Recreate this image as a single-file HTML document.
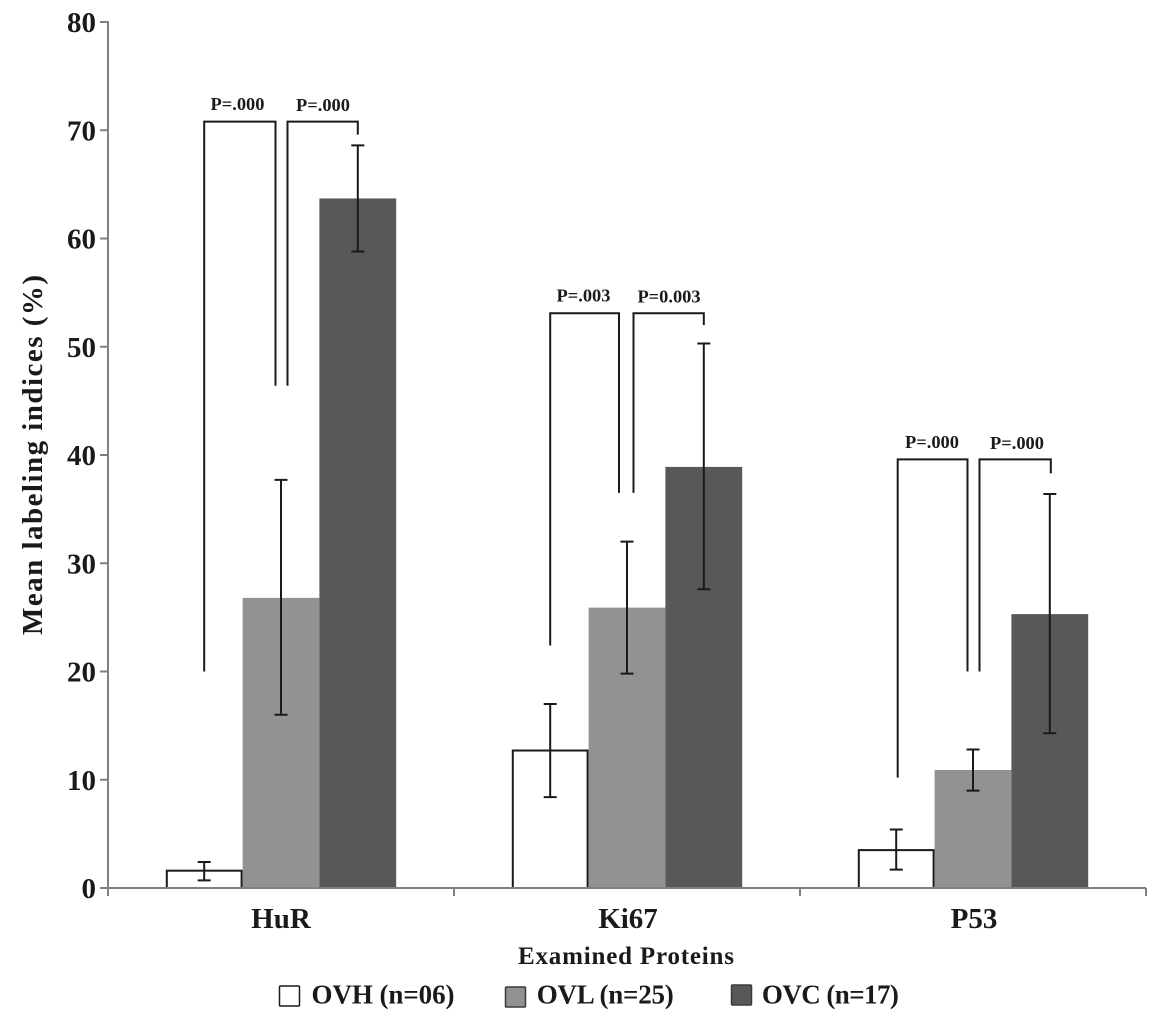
<!DOCTYPE html>
<html>
<head>
<meta charset="utf-8">
<title>Mean labeling indices</title>
<style>
html,body{margin:0;padding:0;background:#fff;width:1170px;height:1029px;overflow:hidden}
svg{display:block;filter:blur(0.35px)}
text{font-family:"Liberation Serif",serif;font-weight:bold;fill:#1a1a1a}
</style>
</head>
<body>
<svg id="chart" width="1170" height="1029" viewBox="0 0 1170 1029" xmlns="http://www.w3.org/2000/svg">
  <text transform="translate(42,455) rotate(-90)" text-anchor="middle" font-size="29" textLength="360" lengthAdjust="spacing">Mean labeling indices (%)</text>
  <text x="626" y="964" text-anchor="middle" font-size="25" textLength="216" lengthAdjust="spacing">Examined Proteins</text>
</svg>
<script>
const categories = ['HuR', 'Ki67', 'P53'];
const seriesNames = ['OVH (n=06)', 'OVL (n=25)', 'OVC (n=17)'];
const ovhValues = [1.6, 12.7, 3.5];
const ovlValues = [26.8, 25.9, 10.9];
const ovcValues = [63.7, 38.9, 25.3];
const ovhLow = [0.7, 8.4, 1.7];
const ovhHigh = [2.4, 17.0, 5.4];
const ovlLow = [16.0, 19.8, 9.0];
const ovlHigh = [37.7, 32.0, 12.8];
const ovcLow = [58.8, 27.6, 14.3];
const ovcHigh = [68.6, 50.3, 36.4];
const yTicks = [0, 10, 20, 30, 40, 50, 60, 70, 80];
const pLabelsLeft = ['P=.000', 'P=.003', 'P=.000'];
const pLabelsRight = ['P=.000', 'P=0.003', 'P=.000'];
const bracketTop = [70.8, 53.1, 39.6];
const bracketLeftEnd = [20.0, 22.4, 10.2];
const bracketMidEnd = [46.4, 36.5, 20.0];
const bracketRightEnd = [69.6, 52.0, 38.3];

const svg = document.getElementById('chart');
const NS = 'http://www.w3.org/2000/svg';
const plotLeft = 108, plotRight = 1146, plotBottom = 888, plotTop = 22;
const yScale = v => plotBottom - v * (plotBottom - plotTop) / 80;
const bandWidth = (plotRight - plotLeft) / categories.length;
const barWidth = 76.8;
const bandCenter = i => plotLeft + bandWidth * (i + 0.5);
const barX = (i, s) => bandCenter(i) - 1.5 * barWidth + s * barWidth;

function make(tag, attrs, text) {
  const el = document.createElementNS(NS, tag);
  for (const k in attrs) el.setAttribute(k, attrs[k]);
  if (text !== undefined) el.textContent = text;
  svg.appendChild(el);
  return el;
}

const seriesValues = [ovhValues, ovlValues, ovcValues];
const seriesLow = [ovhLow, ovlLow, ovcLow];
const seriesHigh = [ovhHigh, ovlHigh, ovcHigh];
const seriesKeys = ['ovh', 'ovl', 'ovc'];
const fills = ['#ffffff', '#929292', '#585858'];

// bars
categories.forEach((cat, i) => {
  seriesValues.forEach((vals, s) => {
    const y = yScale(vals[i]);
    const inset = s === 0 ? 1 : 0;
    const r = make('rect', {
      x: barX(i, s) + inset, y: y, width: barWidth - inset * 2, height: plotBottom - y,
      fill: fills[s], stroke: s === 0 ? '#1a1a1a' : 'none', 'stroke-width': s === 0 ? 2 : 0
    });
    
    
  });
});

// axes
const yAxis = make('line', {x1: plotLeft, y1: plotTop - 1, x2: plotLeft, y2: plotBottom + 8, stroke: '#808080', 'stroke-width': 2});


const xAxis = make('line', {x1: plotLeft - 8, y1: plotBottom, x2: plotRight, y2: plotBottom, stroke: '#808080', 'stroke-width': 2});



yTicks.forEach(t => {
  const y = yScale(t);
  const tick = make('line', {x1: plotLeft - 8, y1: y, x2: plotLeft, y2: y, stroke: '#808080', 'stroke-width': 2});
  
  
  const label = make('text', {x: 96, y: y + 10, 'text-anchor': 'end', 'font-size': 29}, String(t));
  
  
});

categories.forEach((cat, i) => {
  const x = plotLeft + bandWidth * (i + 1);
  const tick = make('line', {x1: x, y1: plotBottom, x2: x, y2: plotBottom + 8, stroke: '#808080', 'stroke-width': 2});
  
  
  const label = make('text', {x: bandCenter(i) + (i === 0 ? 0 : 1), y: 928, 'text-anchor': 'middle', 'font-size': 29}, cat);
  
  
});

// error bars
categories.forEach((cat, i) => {
  seriesValues.forEach((vals, s) => {
    const cx = barX(i, s) + barWidth / 2;
    const lo = yScale(seriesLow[s][i]), hi = yScale(seriesHigh[s][i]);
    const d = `M${cx} ${lo}V${hi}M${cx - 6.5} ${lo}H${cx + 6.5}M${cx - 6.5} ${hi}H${cx + 6.5}`;
    const p = make('path', {d: d, fill: 'none', stroke: '#1a1a1a', 'stroke-width': 2});
    
    
  });
});

// significance brackets and p-value labels
categories.forEach((cat, i) => {
  const top = yScale(bracketTop[i]);
  const cx = bandCenter(i);
  const x0 = barX(i, 0) + barWidth / 2 + (i === 2 ? 1.5 : 0);
  const x1 = cx - (i === 1 ? 8 : 5.5);
  const x2 = cx + 6.5;
  const x3 = barX(i, 2) + barWidth / 2 + (i === 2 ? 1 : 0);
  const b1 = make('path', {d: `M${x0} ${yScale(bracketLeftEnd[i])}V${top}H${x1}V${yScale(bracketMidEnd[i])}`, fill: 'none', stroke: '#1a1a1a', 'stroke-width': 2});
  
  
  const b2 = make('path', {d: `M${x2} ${yScale(bracketMidEnd[i])}V${top}H${x3}V${yScale(bracketRightEnd[i])}`, fill: 'none', stroke: '#1a1a1a', 'stroke-width': 2});
  
  
  const l1 = make('text', {x: cx - (i === 2 ? 41 : 43.5), y: top - 11.5, 'text-anchor': 'middle', 'font-size': 18.4}, pLabelsLeft[i]);
  
  
  const l2 = make('text', {x: cx + (i === 2 ? 44 : 42), y: top - 10.5, 'text-anchor': 'middle', 'font-size': 18.4}, pLabelsRight[i]);
  
  
});

// legend
seriesNames.forEach((name, s) => {
  const boxX = 279.5 + s * 226;
  const boxY = s === 1 ? 987 : 986 - (s === 2 ? 1 : 0);
  const box = make('rect', {x: boxX, y: boxY, width: 20, height: 20, rx: 1, fill: fills[s], stroke: s === 0 ? '#1a1a1a' : '#3a3a3a', 'stroke-width': 1.5});
  
  
  const label = make('text', {x: 311.5 + s * 225.2, y: 1003.5, 'font-size': 27, textLength: s === 0 ? 143 : 137, lengthAdjust: 'spacing'}, name);
  
  
});
</script>
</body>
</html>
